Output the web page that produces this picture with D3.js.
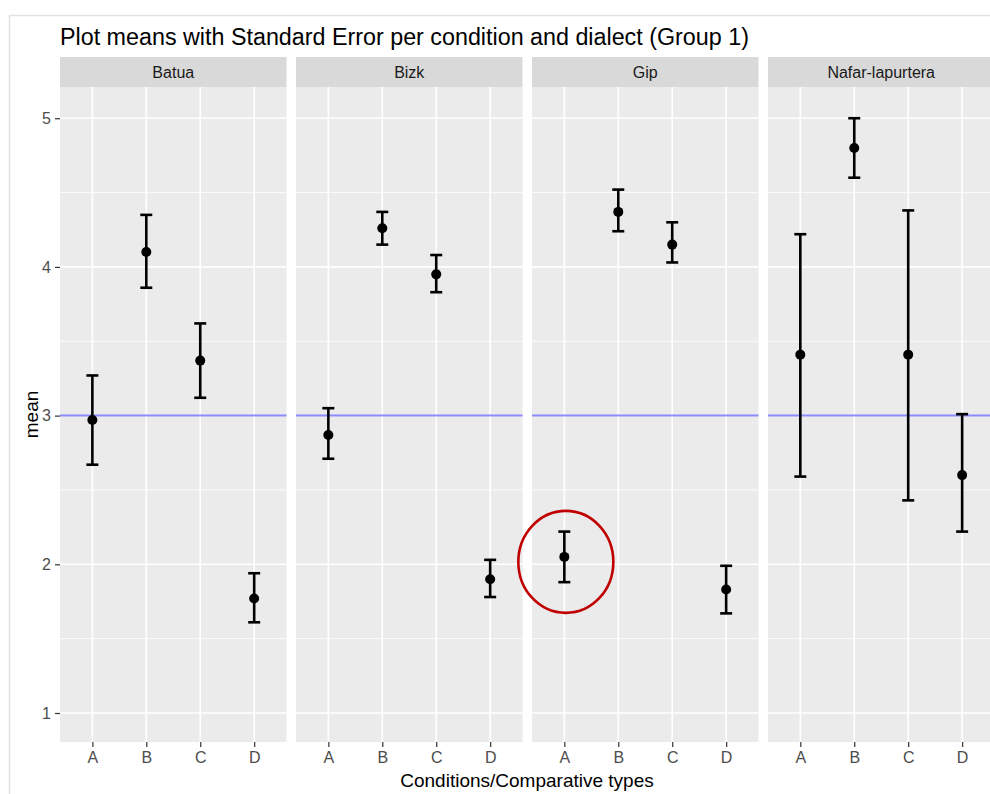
<!DOCTYPE html>
<html>
<head>
<meta charset="utf-8">
<script src="https://cdn.jsdelivr.net/npm/d3@7"></script>
<style>
  body { margin: 0; background: #fff; }
  text { font-family: Arial, "Liberation Sans", sans-serif; }
</style>
</head>
<body>
<svg id="chart" width="990" height="794"></svg>
<script>
// facet names and conditions
var dialects = ["Batua", "Bizk", "Gip", "Nafar-lapurtera"];
var conditions = ["A", "B", "C", "D"];

// means, lower and upper of the standard error bars, one row per dialect
var means = [
  [2.97, 4.10, 3.37, 1.77],
  [2.87, 4.26, 3.95, 1.90],
  [2.05, 4.37, 4.15, 1.83],
  [3.41, 4.80, 3.41, 2.60]
];
var lowers = [
  [2.67, 3.86, 3.12, 1.61],
  [2.71, 4.15, 3.83, 1.78],
  [1.88, 4.24, 4.03, 1.67],
  [2.59, 4.60, 2.43, 2.22]
];
var uppers = [
  [3.27, 4.35, 3.62, 1.94],
  [3.05, 4.37, 4.08, 2.03],
  [2.22, 4.52, 4.30, 1.99],
  [4.22, 5.00, 4.38, 3.01]
];
var yTicks = [1, 2, 3, 4, 5];
var yMinor = [1.5, 2.5, 3.5, 4.5];
var refLine = 3;

var svg = d3.select("#chart");

// frame of the screenshot
svg.append("line").attr("x1", 9).attr("x2", 990).attr("y1", 15.5).attr("y2", 15.5)
  .attr("stroke", "#e3e3e3").attr("stroke-width", 1.5);
svg.append("line").attr("x1", 9.5).attr("x2", 9.5).attr("y1", 15).attr("y2", 794)
  .attr("stroke", "#e3e3e3").attr("stroke-width", 1.5);

var panelTop = 87, panelBottom = 742, stripTop = 57;

var facet = d3.scaleBand().domain(dialects).range([60, 994.5]).paddingInner(0.04);
var x = d3.scalePoint().domain(conditions).range([0, facet.bandwidth()]).padding(0.6);
var y = d3.scaleLinear().domain([0.805, 5.21]).range([panelBottom, panelTop]);

// title
svg.append("text").attr("x", 60).attr("y", 45)
  .attr("font-size", 23.3).attr("fill", "#000")
  .text("Plot means with Standard Error per condition and dialect (Group 1)");

dialects.forEach(function (name, i) {
  var g = svg.append("g").attr("transform", `translate(${facet(name)},0)`);
  var w = facet.bandwidth();

  // strip
  g.append("rect").attr("x", 0).attr("y", stripTop).attr("width", w).attr("height", panelTop - stripTop)
    .attr("fill", "#d9d9d9");
  g.append("text").attr("x", w / 2).attr("y", (stripTop + panelTop) / 2 + 5.5)
    .attr("text-anchor", "middle").attr("font-size", 16).attr("fill", "#1a1a1a")
    .text(name);

  // panel background
  g.append("rect").attr("x", 0).attr("y", panelTop).attr("width", w).attr("height", panelBottom - panelTop)
    .attr("fill", "#ebebeb");

  g.selectAll(".minor").data(yMinor).join("line").attr("class", "minor")
    .attr("x1", 0).attr("x2", w).attr("y1", d => y(d)).attr("y2", d => y(d))
    .attr("stroke", "#fff").attr("stroke-width", 0.8);
  g.selectAll(".major").data(yTicks).join("line").attr("class", "major")
    .attr("x1", 0).attr("x2", w).attr("y1", d => y(d)).attr("y2", d => y(d))
    .attr("stroke", "#fff").attr("stroke-width", 1.6);
  g.selectAll(".vmajor").data(conditions).join("line").attr("class", "vmajor")
    .attr("x1", d => x(d)).attr("x2", d => x(d)).attr("y1", panelTop).attr("y2", panelBottom)
    .attr("stroke", "#fff").attr("stroke-width", 1.6);

  // reference line
  g.append("line").attr("x1", 0).attr("x2", w).attr("y1", y(refLine)).attr("y2", y(refLine))
    .attr("stroke", "blue").attr("stroke-opacity", 0.45).attr("stroke-width", 2);

  // x axis
  var xa = g.append("g").attr("transform", `translate(0,${panelBottom})`)
    .call(d3.axisBottom(x).tickSize(5).tickPadding(5));
  xa.attr("font-size", null).attr("font-family", null);
  xa.select(".domain").remove();
  xa.selectAll("line").attr("stroke", "#333").attr("stroke-width", 1.2);
  xa.selectAll("text").attr("fill", "#4d4d4d").attr("font-size", 16);

  // error bars and points
  var rows = conditions.map(function (c, j) {
    return { c: c, m: means[i][j], lo: lowers[i][j], hi: uppers[i][j] };
  });
  var cap = 6;
  g.selectAll(".bar").data(rows).join("line").attr("class", "bar")
    .attr("x1", d => x(d.c)).attr("x2", d => x(d.c))
    .attr("y1", d => y(d.lo)).attr("y2", d => y(d.hi))
    .attr("stroke", "#000").attr("stroke-width", 2.6);
  g.selectAll(".capHi").data(rows).join("line").attr("class", "capHi")
    .attr("x1", d => x(d.c) - cap).attr("x2", d => x(d.c) + cap)
    .attr("y1", d => y(d.hi)).attr("y2", d => y(d.hi))
    .attr("stroke", "#000").attr("stroke-width", 2.6);
  g.selectAll(".capLo").data(rows).join("line").attr("class", "capLo")
    .attr("x1", d => x(d.c) - cap).attr("x2", d => x(d.c) + cap)
    .attr("y1", d => y(d.lo)).attr("y2", d => y(d.lo))
    .attr("stroke", "#000").attr("stroke-width", 2.6);
  g.selectAll(".pt").data(rows).join("circle").attr("class", "pt")
    .attr("cx", d => x(d.c)).attr("cy", d => y(d.m)).attr("r", 5)
    .attr("fill", "#000");

  // highlight ring round Gip A
  if (name === "Gip") {
    g.append("ellipse").attr("cx", x("A") + 1.5).attr("cy", y(means[i][0]) + 5)
      .attr("rx", 47.5).attr("ry", 51)
      .attr("fill", "none").attr("stroke", "#c00000").attr("stroke-width", 2.6);
  }
});

// y axis, drawn once at the left facet
var ya = svg.append("g").attr("transform", "translate(60,0)")
  .call(d3.axisLeft(y).tickValues(yTicks).tickSize(5).tickPadding(4).tickFormat(d3.format("d")));
ya.attr("font-size", null).attr("font-family", null);
ya.select(".domain").remove();
ya.selectAll("line").attr("stroke", "#333").attr("stroke-width", 1.2);
ya.selectAll("text").attr("fill", "#4d4d4d").attr("font-size", 16);

// axis titles
svg.append("text").attr("transform", `translate(38,${(panelTop + panelBottom) / 2}) rotate(-90)`)
  .attr("text-anchor", "middle").attr("font-size", 19).attr("fill", "#000")
  .text("mean");
svg.append("text").attr("x", 527).attr("y", 787)
  .attr("text-anchor", "middle").attr("font-size", 19).attr("fill", "#000")
  .text("Conditions/Comparative types");
</script>
</body>
</html>
